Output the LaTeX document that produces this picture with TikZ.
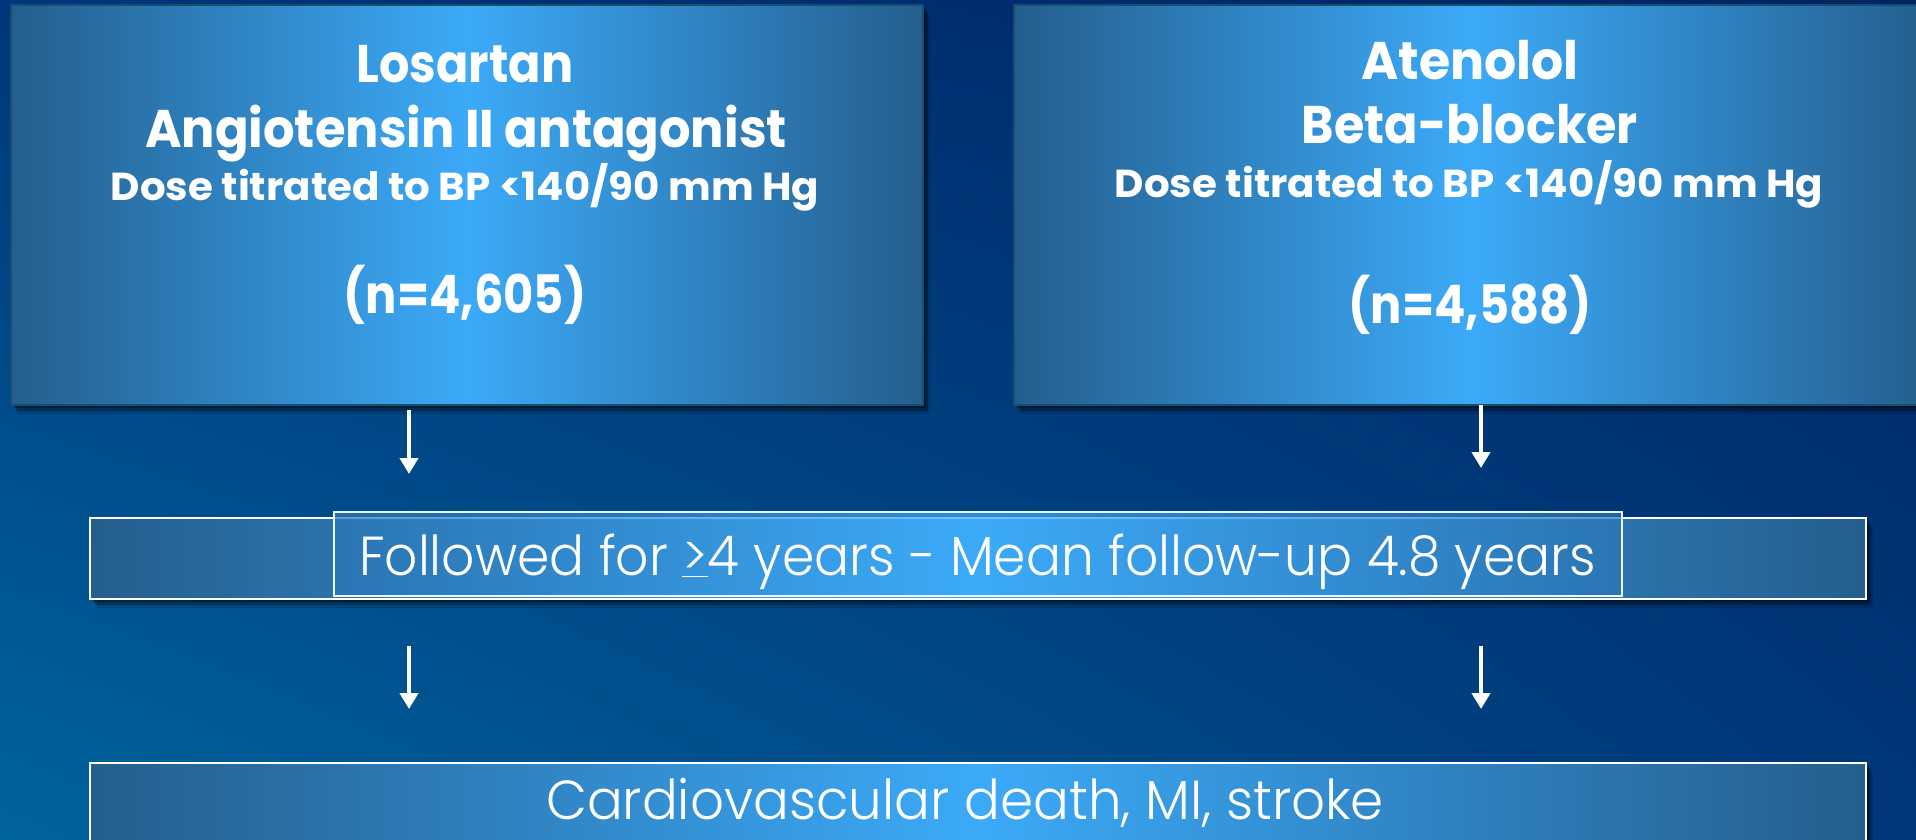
\documentclass[tikz,border=0pt]{standalone}
\usepackage{graphicx}
\usepackage{fontspec}
\setmainfont{Poppins}
\newfontfamily\pb{Poppins}
\newfontfamily\pr{Poppins Light}
\usetikzlibrary{arrows.meta,shadows,shadings}
\definecolor{bgLL}{RGB}{0,100,156}
\definecolor{bgLR}{RGB}{0,56,122}
\definecolor{bgUL}{RGB}{0,54,124}
\definecolor{bgUR}{RGB}{0,36,100}
\definecolor{boxedge}{RGB}{36,94,142}
\definecolor{boxlight}{RGB}{60,170,248}
\definecolor{inneredge}{RGB}{44,118,182}
\definecolor{topline}{RGB}{22,78,112}
\tikzset{
  softshadow/.style={
    drop shadow={shadow xshift=3pt, shadow yshift=-3pt, opacity=0.35, fill=black},
    drop shadow={shadow xshift=5pt, shadow yshift=-6pt, opacity=0.25, fill=black},
    drop shadow={shadow xshift=7pt, shadow yshift=-9pt, opacity=0.15, fill=black}},
  topbox/.style={rectangle, draw=topline, line width=2pt, inner sep=0pt,
    left color=boxedge, right color=boxedge, middle color=boxlight, softshadow},
  lowbox/.style={rectangle, draw=white, line width=2.5pt, inner sep=0pt,
    left color=boxedge, right color=boxedge, middle color=boxlight, softshadow},
  innerbox/.style={rectangle, draw=white!90!boxlight, line width=1.5pt, inner sep=0pt,
    left color=inneredge, right color=inneredge, middle color=boxlight, fill opacity=0.72},
  bigtxt/.style={text=white, anchor=base, inner sep=0pt, font=\pb\bfseries\fontsize{53}{60}\selectfont},
  midtxt/.style={text=white, anchor=base, inner sep=0pt, font=\pb\bfseries\fontsize{39}{46}\selectfont},
  lowtxt/.style={text=white, anchor=base, inner sep=0pt, font=\pr\fontsize{55}{62}\selectfont},
  arr/.style={draw=white, line width=4pt, -{Triangle[width=18pt,length=16pt]}}
}
\newcommand{\hs}[2]{\scalebox{#1}[1]{#2}}
\begin{document}
\begin{tikzpicture}[x=1pt,y=-1pt]
\useasboundingbox (0,0) rectangle (1916,840);
\clip (0,0) rectangle (1916,840);
\shade[lower left=bgLL, lower right=bgLR, upper left=bgUL, upper right=bgUR] (0,0) rectangle (1916,840);

% top boxes
\node[topbox, minimum width=912pt, minimum height=400pt] (L) at (467,205) {};
\node[topbox, minimum width=916pt, minimum height=400pt] (R) at (1472,205) {};

\node[bigtxt] (L1) at (465,83) {\hs{0.90}{Losartan}};
\node[bigtxt] (L2) at (466,147) {\hs{0.935}{Angiotensin II antagonist}};
\node[midtxt] (L3) at (465,200) {\hs{1.035}{Dose titrated to BP <140/90 mm Hg}};
\node[bigtxt] (L4) at (465,313) {\hs{0.875}{(n=4,605)}};

\node[bigtxt] (R1) at (1470,80) {\hs{0.955}{Atenolol}};
\node[bigtxt] (R2) at (1470,143) {\hs{0.93}{Beta-blocker}};
\node[midtxt] (R3) at (1469,197) {\hs{1.035}{Dose titrated to BP <140/90 mm Hg}};
\node[bigtxt] (R4) at (1470,323) {\hs{0.875}{(n=4,588)}};

% middle boxes
\node[lowbox, minimum width=1776pt, minimum height=81pt] (M) at (978,558.5) {};
\node[innerbox, minimum width=1288pt, minimum height=84pt] (MI) at (978,554) {};
\node[lowtxt] (Mt) at (977.5,575) {\hs{0.944}{Followed for \underline{>}4 years - Mean follow-up 4.8 years}};

% bottom box
\node[lowbox, minimum width=1776pt, minimum height=137pt] (B) at (978,831.5) {};
\node[lowtxt] (Bt) at (965,819) {\hs{0.966}{Cardiovascular death, MI, stroke}};

% arrows
\coordinate (a1s) at (409,410);
\coordinate (a1e) at (409,474);
\coordinate (a2s) at (1481,405);
\coordinate (a2e) at (1481,468);
\coordinate (a3s) at (409,646);
\coordinate (a3e) at (409,709);
\coordinate (a4s) at (1481,646);
\coordinate (a4e) at (1481,709);
\draw[arr] (a1s) -- (a1e);
\draw[arr] (a2s) -- (a2e);
\draw[arr] (a3s) -- (a3e);
\draw[arr] (a4s) -- (a4e);
\end{tikzpicture}
\end{document}
